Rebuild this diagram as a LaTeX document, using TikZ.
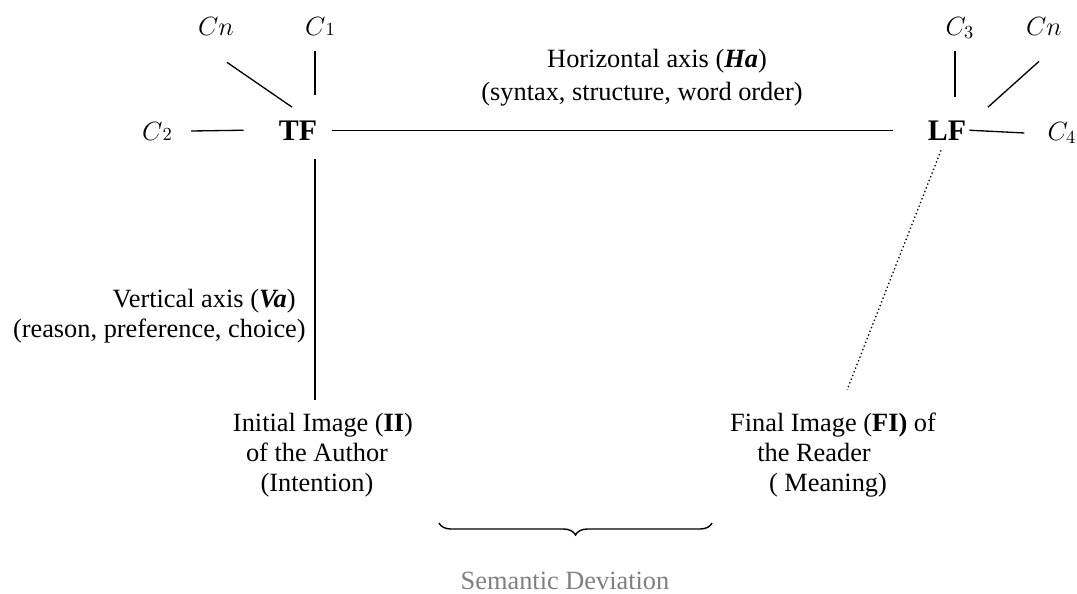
\documentclass[tikz,border=0pt]{standalone}
\usepackage{fix-cm}
\usepackage{fontspec}
\setmainfont{Liberation Serif}
\usetikzlibrary{calc,decorations.pathreplacing}
\definecolor{sgray}{HTML}{7F7F7F}
\tikzset{
  lbl/.style={inner sep=0pt,align=center,font=\fontsize{15}{17}\selectfont},
  keyf/.style={inner sep=0pt,anchor=base,font=\fontsize{17}{20}\selectfont\bfseries},
  cv/.style={inner sep=0pt,anchor=base,font=\fontsize{15}{17}\selectfont},
  ln/.style={line width=0.75pt},
  dln/.style={line width=0.75pt,dash pattern=on 0.75pt off 1.5pt},
  brc/.style={line width=0.8pt,decorate,decoration={brace,mirror,amplitude=0.24cm}},
}
\begin{document}
\begin{tikzpicture}[x=0.02cm,y=-0.02cm]
  \useasboundingbox (0,0) rectangle (1077,593);
  \node[keyf] (TF) at (298,140) {TF};
  \node[keyf] (LF) at (947,140) {LF};
  \node[cv] (cnl) at (216,35) {$Cn$};
  \node[cv] (c1) at (320,35) {$C{\scriptstyle 1}$};
  \node[cv] (c2) at (157,140) {$C{\scriptstyle 2}$};
  \node[cv] (c3) at (960,35) {$C_3$};
  \node[cv] (cnr) at (1044,35) {$Cn$};
  \node[cv] (c4) at (1062,140) {$C_4$};
  \node[lbl,anchor=north,font=\fontsize{15}{18.5}\selectfont] (ha) at (642,49) {\kern0.6cm Horizontal axis (\textbf{\textit{Ha}})\\(syntax, structure, word order)};
  \node[lbl,anchor=north east,align=right] (va) at (306,289) {Vertical axis (\textbf{\textit{Va}})\kern0.2cm\\(reason, preference, choice)};
  \node[lbl,anchor=north] (ii) at (323,413) {Initial Image (\textbf{II})\\of the Author\kern0.24cm\\(Intention)\kern0.24cm};
  \node[lbl,anchor=north] (fi) at (833,413) {Final Image (\textbf{FI)} of\\the Reader\kern0.76cm\\( Meaning)\kern0.2cm};
  \node[lbl,anchor=base,text=sgray] (sd) at (565,589) {Semantic Deviation};
  \coordinate (bl) at (439,523);
  \coordinate (br) at (712,523);
  \draw[ln] ($(c2.east)+(19,0)$) -- ($(TF.west)+(-35,0)$);
  \draw[ln] ($(TF.east)+(15,0)$) -- ($(LF.west)+(-35,0)$);
  \draw[ln] ($(LF.east)+(3,0)$) -- ($(c4.west)+(-23,0)$);
  \draw[ln] ($(c1.south)+(-5,16)$) -- ($(TF.north)+(17,-25)$);
  \draw[ln] ($(cnl.south)+(11,27)$) -- ($(TF.north)+(-6,-13)$);
  \draw[ln] ($(c3.south)+(-5,12)$) -- ($(LF.north)+(8,-23)$);
  \draw[ln] ($(cnr.south)+(-5,26)$) -- ($(LF.north)+(41,-13)$);
  \draw[ln] ($(TF.south)+(17,19)$) -- ($(ii.north)+(-8,-13)$);
  \draw[dln] ($(LF.south)+(-6,10)$) -- ($(fi.north)+(14,-23)$);
  \draw[brc] (bl) -- (br);
\end{tikzpicture}
\end{document}
